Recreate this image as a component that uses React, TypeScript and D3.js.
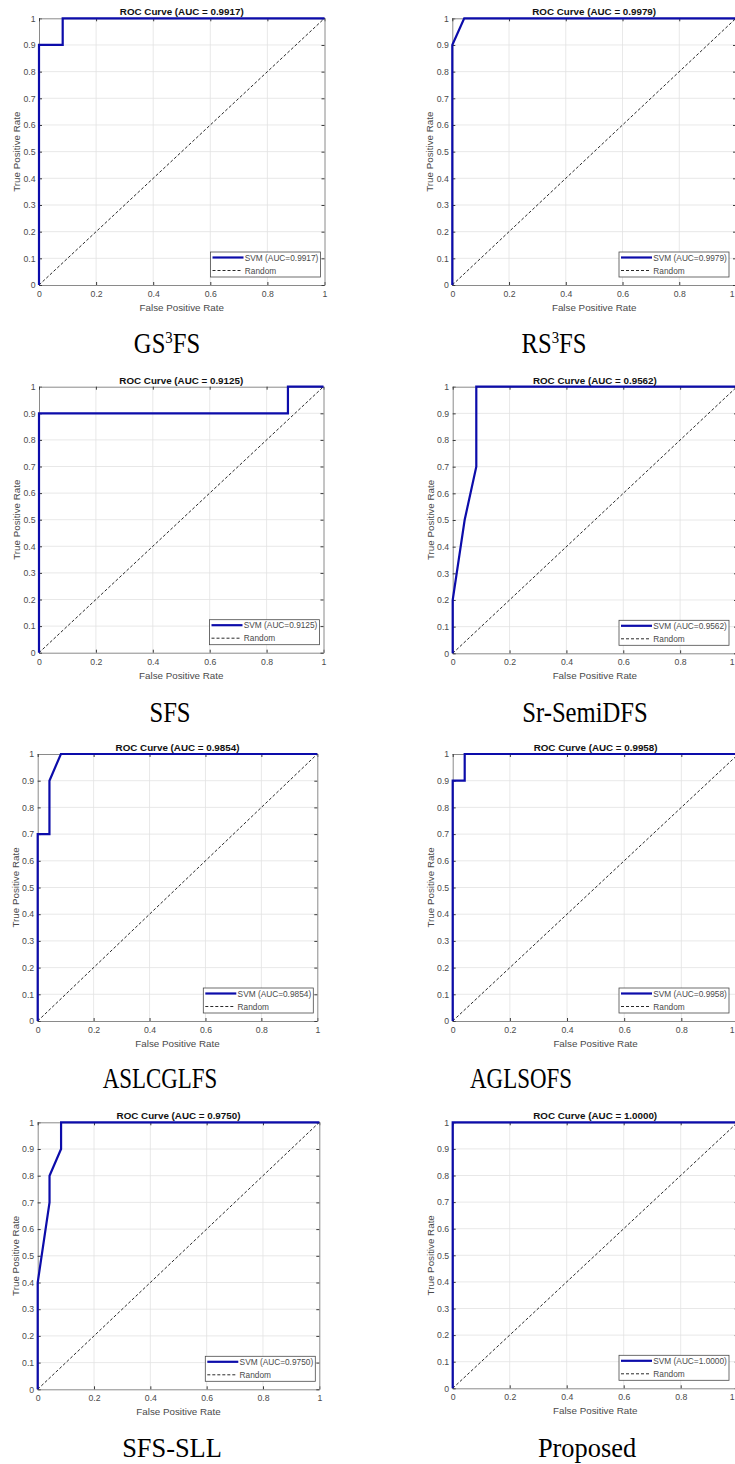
import React, { useEffect, useRef } from "react";
import * as d3 from "d3";

// method names ("^" marks a superscript character)
const methods = ["GS^3FS", "RS^3FS", "SFS", "Sr-SemiDFS", "ASLCGLFS", "AGLSOFS", "SFS-SLL", "Proposed"];
const aucValues = [0.9917, 0.9979, 0.9125, 0.9562, 0.9854, 0.9958, 0.975, 1.0];

// ROC points
const fprValues = [
  [0, 0, 0.083, 0.083, 1],
  [0, 0, 0.042, 1],
  [0, 0, 0.875, 0.875, 1],
  [0, 0, 0.042, 0.083, 0.083, 1],
  [0, 0, 0.042, 0.042, 0.083, 1],
  [0, 0, 0.042, 0.042, 1],
  [0, 0, 0.042, 0.042, 0.083, 0.083, 1],
  [0, 0, 1],
];
const tprValues = [
  [0, 0.9, 0.9, 1, 1],
  [0, 0.9, 1, 1],
  [0, 0.9, 0.9, 1, 1],
  [0, 0.2, 0.5, 0.7, 1, 1],
  [0, 0.7, 0.7, 0.9, 1, 1],
  [0, 0.9, 0.9, 1, 1],
  [0, 0.4, 0.7, 0.8, 0.9, 1, 1],
  [0, 1, 1],
];

const xTicks = [0, 0.2, 0.4, 0.6, 0.8, 1];
const xTickLabels = ["0", "0.2", "0.4", "0.6", "0.8", "1"];
const yTicks = [0, 0.1, 0.2, 0.3, 0.4, 0.5, 0.6, 0.7, 0.8, 0.9, 1];
const yTickLabels = ["0", "0.1", "0.2", "0.3", "0.4", "0.5", "0.6", "0.7", "0.8", "0.9", "1"];

// where each sub-figure sits on the page (the source is a collage of screenshots)
const layout = [
  { left: 39, right: 324.5, top: 18.3, bottom: 285, capX: 167, capY: 353, capSize: 29, capScale: 0.85 },
  { left: 452.3, right: 736, top: 18.3, bottom: 285, capX: 554, capY: 353, capSize: 29, capScale: 0.85 },
  { left: 39, right: 323.5, top: 386.7, bottom: 652.7, capX: 170, capY: 722, capSize: 29, capScale: 0.85 },
  { left: 452.7, right: 737, top: 386.7, bottom: 653.3, capX: 585, capY: 722, capSize: 29, capScale: 0.85 },
  { left: 37.7, right: 317.3, top: 754, bottom: 1021, capX: 160, capY: 1088, capSize: 29, capScale: 0.79 },
  { left: 452.7, right: 738.5, top: 754, bottom: 1021, capX: 521, capY: 1088, capSize: 29, capScale: 0.79 },
  { left: 37.7, right: 319.3, top: 1122.3, bottom: 1389.3, capX: 172, capY: 1457, capSize: 27.5, capScale: 0.96 },
  { left: 452.7, right: 737.7, top: 1122.3, bottom: 1388.3, capX: 587, capY: 1457, capSize: 27.5, capScale: 0.96 },
];

const PAGE_W = 735;
const SANS = "'Liberation Sans', Arial, sans-serif";
const SERIF = "'Liberation Serif', 'Times New Roman', serif";
const BLUE = "#0c0caa";

const App = () => {
  const ref = useRef<SVGSVGElement>(null);

  useEffect(() => {
    const svg = d3.select(ref.current);
    svg.selectAll("*").remove();

    methods.forEach((name, i) => {
      const L = layout[i];
      const x = d3.scaleLinear().domain([0, 1]).range([L.left, L.right]);
      const y = d3.scaleLinear().domain([0, 1]).range([L.bottom, L.top]);
      const g = svg.append("g");

      // grid
      g.selectAll(".gx")
        .data(xTicks.slice(1, -1))
        .enter().append("line")
        .attr("x1", (d) => x(d)).attr("x2", (d) => x(d))
        .attr("y1", L.top).attr("y2", L.bottom)
        .attr("stroke", "#e2e2e2").attr("stroke-width", 0.8);
      g.selectAll(".gy")
        .data(yTicks.slice(1, -1))
        .enter().append("line")
        .attr("x1", L.left).attr("x2", L.right)
        .attr("y1", (d) => y(d)).attr("y2", (d) => y(d))
        .attr("stroke", "#e2e2e2").attr("stroke-width", 0.8);

      // axes (box on, ticks inward)
      const styleAxis = (sel) => {
        sel.attr("font-size", null).attr("font-family", null);
        sel.select(".domain").attr("stroke", "#8a8a8a");
        sel.selectAll(".tick line").attr("stroke", "#3a3a3a");
        sel.selectAll(".tick text")
          .attr("fill", "#4a4a4a")
          .attr("font-family", SANS)
          .attr("font-size", 8.7);
      };
      const bottomAxis = g.append("g")
        .attr("transform", `translate(0, ${L.bottom})`)
        .call(d3.axisBottom(x).tickValues(xTicks).tickFormat((d, k) => xTickLabels[k]).tickSizeInner(-3).tickSizeOuter(0).tickPadding(5.8))
        .call(styleAxis);
      // the page edge cuts the right-hand panels; keep the last label on the page
      bottomAxis.selectAll(".tick")
        .filter((d) => x(d) + 3 > PAGE_W)
        .select("text")
        .attr("text-anchor", "end")
        .attr("x", PAGE_W - 1 - x(1));
      g.append("g")
        .attr("transform", `translate(${L.left}, 0)`)
        .call(d3.axisLeft(y).tickValues(yTicks).tickFormat((d, k) => yTickLabels[k]).tickSizeInner(-3).tickSizeOuter(0).tickPadding(3.5))
        .call(styleAxis);
      g.append("g")
        .attr("transform", `translate(0, ${L.top})`)
        .call(d3.axisTop(x).tickValues(xTicks).tickFormat(() => "").tickSizeInner(-3).tickSizeOuter(0))
        .call(styleAxis);
      g.append("g")
        .attr("transform", `translate(${L.right}, 0)`)
        .call(d3.axisRight(y).tickValues(yTicks).tickFormat(() => "").tickSizeInner(-3).tickSizeOuter(0))
        .call(styleAxis);

      // random classifier
      g.append("line")
        .attr("x1", x(0)).attr("y1", y(0))
        .attr("x2", x(1)).attr("y2", y(1))
        .attr("stroke", "#111").attr("stroke-width", 0.9)
        .attr("stroke-dasharray", "3,2");

      // ROC curve
      const pts = fprValues[i].map((f, k) => [f, tprValues[i][k]]);
      const line = d3.line().x((d) => x(d[0])).y((d) => y(d[1]));
      g.append("path")
        .attr("d", line(pts))
        .attr("fill", "none")
        .attr("stroke", BLUE)
        .attr("stroke-width", 2.2)
        .attr("stroke-linejoin", "miter");

      // title
      g.append("text")
        .attr("x", (L.left + L.right) / 2)
        .attr("y", L.top - 3)
        .attr("text-anchor", "middle")
        .attr("font-family", SANS)
        .attr("font-weight", "bold")
        .attr("font-size", 9.8)
        .attr("fill", "#111")
        .text(`ROC Curve (AUC = ${aucValues[i].toFixed(4)})`);

      // axis labels
      g.append("text")
        .attr("x", (L.left + L.right) / 2)
        .attr("y", L.bottom + 26)
        .attr("text-anchor", "middle")
        .attr("font-family", SANS)
        .attr("font-size", 9.8)
        .attr("fill", "#4a4a4a")
        .text("False Positive Rate");
      g.append("text")
        .attr("transform", `translate(${L.left - 19}, ${(L.top + L.bottom) / 2}) rotate(-90)`)
        .attr("text-anchor", "middle")
        .attr("font-family", SANS)
        .attr("font-size", 9.8)
        .attr("fill", "#4a4a4a")
        .text("True Positive Rate");

      // legend
      const lw = 110, lh = 25;
      const lx = Math.min(L.right, PAGE_W - 2) - 4 - lw;
      const ly = L.bottom - 8 - lh;
      const leg = g.append("g").attr("transform", `translate(${lx}, ${ly})`);
      leg.append("rect")
        .attr("width", lw).attr("height", lh)
        .attr("fill", "#fff").attr("stroke", "#4a4a4a").attr("stroke-width", 0.8);
      leg.append("line")
        .attr("x1", 2).attr("x2", 33).attr("y1", 5.5).attr("y2", 5.5)
        .attr("stroke", BLUE).attr("stroke-width", 2.2);
      leg.append("line")
        .attr("x1", 2).attr("x2", 31).attr("y1", 18.5).attr("y2", 18.5)
        .attr("stroke", "#111").attr("stroke-width", 0.9).attr("stroke-dasharray", "3,2");
      leg.append("text")
        .attr("x", 34.3).attr("y", 8.6)
        .attr("font-family", SANS).attr("font-size", 8.3).attr("fill", "#4a4a4a")
        .text(`SVM (AUC=${aucValues[i].toFixed(4)})`);
      leg.append("text")
        .attr("x", 34.3).attr("y", 21.6)
        .attr("font-family", SANS).attr("font-size", 8.3).attr("fill", "#4a4a4a")
        .text("Random");

      // caption under the sub-figure
      const parts = name.split("^");
      const cap = svg.append("text")
        .attr("transform", `translate(${L.capX}, ${L.capY}) scale(${L.capScale}, 1)`)
        .attr("text-anchor", "middle")
        .attr("font-family", SERIF)
        .attr("font-size", L.capSize)
        .attr("fill", "#000");
      cap.append("tspan").text(parts[0]);
      if (parts.length > 1) {
        cap.append("tspan")
          .attr("font-size", L.capSize * 0.6)
          .attr("dy", -L.capSize * 0.34)
          .text(parts[1][0]);
        cap.append("tspan")
          .attr("dy", L.capSize * 0.34)
          .text(parts[1].slice(1));
      }
    });
  }, []);

  return (
    <svg
      ref={ref}
      width={735}
      height={1464}
      style={{ position: "absolute", left: 0, top: 0, display: "block", background: "#fff" }}
    ></svg>
  );
};

export default App;
